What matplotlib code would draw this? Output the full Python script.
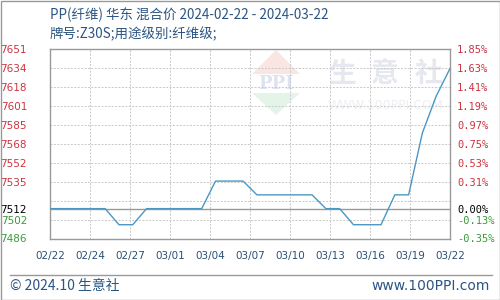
import matplotlib
matplotlib.use("Agg")
import matplotlib.pyplot as plt
import matplotlib.dates as mdates
from matplotlib.patches import Polygon, Rectangle
from matplotlib.lines import Line2D
import numpy as np
import pandas as pd

plt.rcParams['font.family'] = ['Noto Sans CJK SC', 'DejaVu Sans']

# ---- data ----
dates = ["2024-02-22", "2024-02-26", "2024-02-27", "2024-02-28", "2024-02-29",
         "2024-03-04", "2024-03-05", "2024-03-07", "2024-03-08", "2024-03-12",
         "2024-03-13", "2024-03-14", "2024-03-15", "2024-03-17", "2024-03-18",
         "2024-03-19", "2024-03-20", "2024-03-21", "2024-03-22"]
prices = [7512, 7512, 7498, 7498, 7512,
          7512, 7536, 7536, 7524, 7524,
          7512, 7512, 7498, 7498, 7524,
          7524, 7578, 7610, 7634]
x_tick_labels = ["02/22", "02/24", "02/27", "03/01", "03/04", "03/07",
                 "03/10", "03/13", "03/16", "03/19", "03/22"]
base_price = 7512
y_min, y_max = 7486, 7651
left_labels = ["7486", "7502", "", "7535", "7552", "7568", "7585", "7601", "7618", "7634", "7651"]
right_labels = ["-0.35%", "-0.13%", "", "0.31%", "0.53%", "0.75%", "0.97%", "1.19%", "1.41%", "1.63%", "1.85%"]
title1 = "PP(纤维) 华东 混合价 2024-02-22 - 2024-03-22"
title2 = "牌号:Z30S;用途级别:纤维级;"
footer_left = "© 2024.10 生意社"
footer_right = "www.100PPI.com"

RED = "#cc3340"
GREEN = "#3a9a3a"
BLUE_TXT = "#2b5582"
LINE = "#4a97c4"

fig = plt.figure(figsize=(5, 3), dpi=100)
W, H = 500, 300
ax = fig.add_axes([50 / W, 1 - 238.5 / H, 400 / W, 189.5 / H])

x = pd.to_datetime(dates)
ax.plot(x, prices, color=LINE, lw=1.0, zorder=5)

x0, x1 = mdates.date2num(x[0]), mdates.date2num(x[-1])
ax.set_xlim(x0, x1)
ax.set_ylim(y_min, y_max)

# x ticks
xt = np.linspace(x0, x1, len(x_tick_labels))
ax.set_xticks(xt)
ax.set_xticklabels(x_tick_labels, family="DejaVu Sans", fontsize=7.5, color="#2b4f75")
ax.tick_params(axis="x", length=0, pad=9)

# y labels (major) incl. base price
yg = np.linspace(y_min, y_max, 11)
ytick_pos = list(yg) + [base_price]
ytick_lab = left_labels + [str(base_price)]
ax.set_yticks(ytick_pos)
ax.set_yticklabels(ytick_lab, family="DejaVu Sans", fontsize=7.5)
for lab, v in zip(ax.get_yticklabels(), ytick_pos):
    lab.set_color(RED if v > base_price + 0.5 else (GREEN if v < base_price - 0.5 else "black"))
ax.tick_params(axis="y", which="both", length=0, pad=16.5)

ax.grid(False)
for v in yg:
    ax.axhline(v, color="#c8c8c8", lw=0.7, ls=(0, (2, 1.5)), zorder=1)
for v in xt:
    ax.axvline(v, color="#c8c8c8", lw=0.7, ls=(0, (2, 1.5)), zorder=1)
ax.axhline(base_price, color="#999999", lw=1.0, zorder=2)

for s in ax.spines.values():
    s.set_color("#999999")
    s.set_linewidth(1.0)

# right axis
ax2 = ax.twinx()
ax2.set_ylim(y_min, y_max)
rpos = list(yg) + [base_price]
rlab = right_labels + ["0.00%"]
ax2.set_yticks(rpos)
ax2.set_yticklabels(rlab, family="DejaVu Sans Mono", fontsize=7.5)
for lab, v in zip(ax2.get_yticklabels(), rpos):
    lab.set_color(RED if v > base_price + 0.5 else (GREEN if v < base_price - 0.5 else "black"))
ax2.tick_params(axis="y", length=0, pad=5)
for s in ax2.spines.values():
    s.set_visible(False)

# watermark
def px(xp, yp):
    return (xp / W, 1 - yp / H)

roof = Polygon([px(252, 74), px(276, 50), px(300, 74)], closed=True,
               transform=fig.transFigure, facecolor="#f9e6e3", edgecolor="none", zorder=0)
bottom = Polygon([px(252, 93), px(300, 93), px(276, 115)], closed=True,
                 transform=fig.transFigure, facecolor="#e4f4e9", edgecolor="none", zorder=0)
fig.patches.extend([roof, bottom])
fig.text(276 / W, 1 - 84 / H, "PPI", fontsize=13, color="#dde3f0", ha="center", va="center",
         family="DejaVu Serif", weight="bold", zorder=0)
for cx, ch in zip([342, 385, 428], ["生", "意", "社"]):
    fig.text(cx / W, 1 - 74 / H, ch, fontsize=20, color="#e5e8ee", ha="center", va="center",
             weight="bold", zorder=0)
fig.text(385 / W, 1 - 106 / H, "WWW.100PPI.COM", fontsize=9, color="#eceef2", ha="center",
         va="center", family="DejaVu Sans", zorder=0)
ax.set_zorder(2)
ax.patch.set_alpha(0)

# titles
fig.text(50 / W, 1 - 15 / H, title1, fontsize=9.7, color=BLUE_TXT, ha="left", va="center")
fig.text(50 / W, 1 - 34 / H, title2, fontsize=9.7, color=BLUE_TXT, ha="left", va="center")

# footer
fig.add_artist(Line2D([10 / W, 492 / W], [1 - 275 / H, 1 - 275 / H], color="#999999", lw=1.0,
                      transform=fig.transFigure))
fig.text(10 / W, 1 - 286 / H, footer_left, fontsize=10, color=BLUE_TXT, ha="left", va="center")
fig.text(490 / W, 1 - 286 / H, footer_right, fontsize=10, color=BLUE_TXT, ha="right", va="center",
         family="DejaVu Sans")

# outer border
fig.add_artist(Rectangle((0.5 / W, 0.5 / H), 499 / W, 299 / H, transform=fig.transFigure,
                         fill=False, edgecolor="#999999", lw=1.0))

fig.savefig("out.png", dpi=100)
